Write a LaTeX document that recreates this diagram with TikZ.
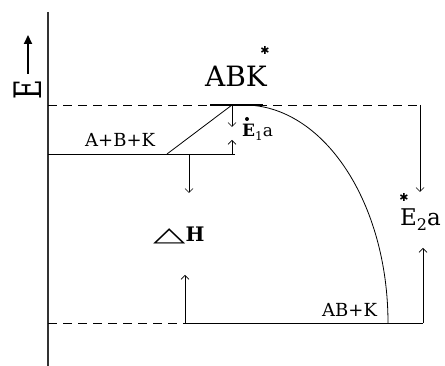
\documentclass[tikz,border=0pt]{standalone}
\usepackage{fontspec}
\usepackage{graphicx}
\setmainfont{DejaVu Serif}
\newfontfamily\symfont{DejaVu Sans}
\usetikzlibrary{arrows.meta}
\newcommand{\sz}[1]{\fontsize{#1}{#1}\selectfont}
\tikzset{
  lvl/.style={line width=0.8pt},
  lvldash/.style={line width=0.8pt, dash pattern=on 9pt off 6pt},
  gap/.style={-{Straight Barb[length=4pt,width=8pt]}, line width=0.7pt},
  txt/.style={inner sep=0pt, anchor=base west},
  starsym/.style={inner sep=0pt, font=\symfont\sz{11}},
}

\begin{document}
\begin{tikzpicture}[x=1pt,y=1pt]
  \useasboundingbox (0,0) rectangle (445,366);
  % energy axis
  \coordinate (axtop) at (48,354);
  \coordinate (axbot) at (48,0);
  \draw[line width=1.2pt, black!80] (axtop) -- (axbot);
  \node[rotate=90, inner sep=0pt, font=\sz{27}] (elab) at (28,276) {\scalebox{1}[1.4]{E}};
  \coordinate (eup) at (28,331);
  \draw[line width=2.4pt, -{Triangle[length=9pt,width=8pt]}] ([yshift=6pt]elab.east) -- (eup);
  % levels
  \coordinate (ts0) at (48,261);
  \coordinate (ts1) at (420,261);
  \coordinate (tsl) at (210,261);
  \coordinate (tsr) at (263,261);
  \coordinate (r0) at (48,212);
  \coordinate (r1) at (235,212);
  \coordinate (p0) at (48,43);
  \coordinate (pm) at (185,43);
  \coordinate (p1) at (423,43);
  \coordinate (foot) at (167,212);
  \coordinate (peak) at (232,261);
  \coordinate (top) at (244,261);
  \draw[lvldash] (ts0) -- (ts1);
  \draw[line width=1.6pt] (tsl) -- (tsr);
  \draw[lvl] (r0) -- (r1);
  \draw[lvl] (foot) -- (peak);
  \draw[lvl] (top) arc[start angle=90, end angle=0, x radius=144, y radius=218];
  \draw[lvldash] (p0) -- (pm);
  \draw[lvl] (pm) -- (p1);
  % gaps
  \coordinate (e2tip) at (420,174);
  \coordinate (dhdown) at (189,173);
  \coordinate (rstart) at (189,212);
  \coordinate (dhup) at (185,91);
  \coordinate (e1up0) at (232,212);
  \coordinate (e1up) at (232,226);
  \coordinate (e1down) at (232,239);
  \coordinate (e2up) at (423,118);
  \draw[gap] (ts1) -- (e2tip);
  \draw[gap] (rstart) -- (dhdown);
  \draw[gap] (pm) -- (dhup);
  \draw[gap] (e1up0) -- (e1up);
  \draw[gap] (peak) -- (e1down);
  \draw[gap] (p1) -- (e2up);
  % labels
  \node[txt, font=\sz{18}] (reac) at (85,219) {A+B+K};
  \node[txt, font=\sz{28}] (abk) at (205,279) {ABK};
  \node[starsym] (abkst) at (265,316) {✱};
  \node[txt, font=\sz{17}] (e1) at (242,229) {\textbf{E}\raisebox{-4pt}{\sz{12}1}a};
  \fill (247,247) circle (2pt);
  \node[txt, font=\sz{23}] (e2) at (400,140) {E\raisebox{-5pt}{\sz{16}2}a};
  \node[starsym] (e2st) at (404,169) {✱};
  \node[txt, font=\sz{20}] (dh) at (153,124) {{\symfont\sz{20}\scalebox{2.1}[1]{△}}\textbf{H}};
  \node[txt, font=\sz{18}] (prod) at (322,49) {AB+K};
\end{tikzpicture}
\end{document}
